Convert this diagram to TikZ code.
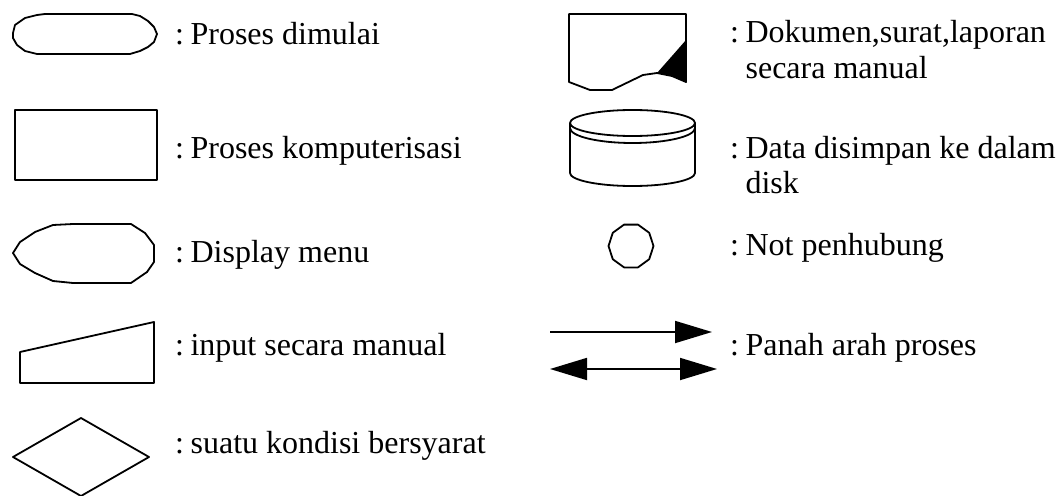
\documentclass[tikz,border=0pt]{standalone}
\usepackage{fontspec}
\setmainfont{Liberation Serif}
\usetikzlibrary{arrows.meta,shapes.geometric}
\newcommand{\clnsp}{:\kern-1.5pt\ }
\tikzset{
  lbl/.style={anchor=base west,inner sep=0pt,font=\fontsize{32}{34}\selectfont},
  shp/.style={draw=black,line width=1.8pt,line join=round},
  conn/.style={draw=black,line width=1.8pt},
}
\begin{document}
\begin{tikzpicture}[x=1pt,y=-1pt]
\useasboundingbox (0,0) rectangle (1062,495);
\begin{scope}
\clip (0,0) rectangle (1062,495);
% terminator
\draw[shp] (13,33) -- (15,25) -- (25,18) -- (37,15) -- (45,14) -- (132,14) -- (140,16) -- (148,21) -- (154,27) -- (157,34)
  -- (154,42) -- (148,47) -- (140,51) -- (130,54) -- (37,54) -- (25,51) -- (17,45) -- (13,38) -- cycle;
% process rectangle
\draw[shp] (15,110) rectangle (157,180);
% display
\draw[shp] (13,253) -- (20,242) -- (35,232) -- (53,225) -- (73,224) -- (131,224) -- (145,233) -- (154,245) -- (154,262)
  -- (147,272) -- (131,283) -- (73,283) -- (53,281) -- (35,273) -- (20,264) -- cycle;
% manual input
\draw[shp] (20,352) -- (154,322) -- (154,383) -- (20,383) -- cycle;
% diamond
\draw[shp] (13,457) -- (81,418) -- (149,457) -- (81,496) -- cycle;
\end{scope}
% document
\draw[shp] (569,14) -- (686,14) -- (686,82) -- (672,76) -- (657,73) -- (643,75) -- (612,90) -- (590,90) -- (569,82) -- cycle;
\fill[black] (657,73) -- (672,56) -- (686,40) -- (686,82) -- (672,76) -- cycle;
% disk
\draw[shp] (632.5,123) ellipse [x radius=62.5, y radius=13];
\draw[shp] (570,128) arc [start angle=180, end angle=0, x radius=62.5, y radius=15];
\draw[shp] (570,123) -- (570,173) arc [start angle=180, end angle=0, x radius=62.5, y radius=13] -- (695,123);
% connector
\node[shp,regular polygon,regular polygon sides=10,minimum size=45pt,inner sep=0pt] (nc) at (631,246) {};
% arrows
\coordinate (a1) at (550,332);
\coordinate (a2) at (712,332);
\coordinate (b1) at (550,369);
\coordinate (b2) at (717,369);
\draw[conn,-{Triangle[length=37pt,width=22pt]}] (a1) -- (a2);
\draw[conn,{Triangle[length=37pt,width=22pt]}-{Triangle[length=37pt,width=22pt]}] (b1) -- (b2);
% labels left
\node[lbl] (t1) at (175,45) {\clnsp Proses dimulai};
\node[lbl] (t2) at (175,158) {\clnsp Proses komputerisasi};
\node[lbl] (t3) at (175,262) {\clnsp Display menu};
\node[lbl] (t4) at (175,355) {\clnsp input secara manual};
\node[lbl] (t5) at (175,453) {\clnsp suatu kondisi bersyarat};
% labels right
\node[lbl] (r1) at (730,43) {\clnsp Dokumen,surat,laporan};
\node[lbl] (r1b) at (730,78) {\phantom{\clnsp}secara manual};
\node[lbl] (r2) at (730,158) {\clnsp Data disimpan ke dalam};
\node[lbl] (r2b) at (730,193) {\phantom{\clnsp}disk};
\node[lbl] (r3) at (730,255) {\clnsp Not penhubung};
\node[lbl] (r4) at (730,355) {\clnsp Panah arah proses};
\end{tikzpicture}
\end{document}
